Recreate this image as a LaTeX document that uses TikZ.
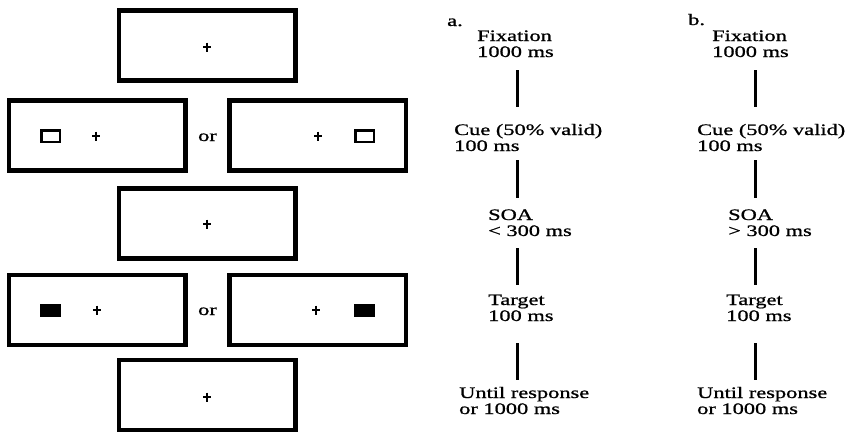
\documentclass[tikz,border=0pt]{standalone}
\usepackage{fontspec}
\setmainfont{Liberation Serif}[FakeStretch=1.4,FakeBold=1]
\begin{document}
\begin{tikzpicture}[x=1pt,y=-1pt,
  screen/.style={draw, line width=4.5pt, minimum width=176.5pt, minimum height=70pt, inner sep=0pt, outer sep=0pt},
  lbl/.style={font=\fontsize{16}{16}\selectfont, inner sep=0pt, align=left, anchor=base west},
  orlbl/.style={font=\fontsize{16}{16}\selectfont, inner sep=0pt, anchor=base},
  conn/.style={line width=3pt},
  cuebox/.style={line width=2.5pt},
  tgtbox/.style={fill=black},
  fixcross/.pic={\draw[line width=1.3pt] (-4,0) -- (4,0) (0,-4.5) -- (0,4.5);}]
\useasboundingbox (0,0) rectangle (849,432);

% screens
\node[screen] (s1)  at (207.25,45.25) {};
\node[screen] (s2l) at (97,135.25) {};
\node[screen] (s2r) at (317.5,135.25) {};
\node[screen] (s3)  at (207.25,223.5) {};
\node[screen] (s4l) at (97,310) {};
\node[screen] (s4r) at (317.5,310) {};
\node[screen] (s5)  at (207.25,395) {};

% fixation crosses
\pic at (207,47) {fixcross};
\pic at (96,136) {fixcross};
\pic at (318,136) {fixcross};
\pic at (207,224) {fixcross};
\pic at (97,310) {fixcross};
\pic at (316,310) {fixcross};
\pic at (207,397) {fixcross};

% cues and targets
\draw[cuebox] (41.25,130.25) rectangle (59.75,141.75);
\draw[cuebox] (355.25,130.25) rectangle (373.75,141.75);
\fill[tgtbox] (39.5,304) rectangle (61,317);
\fill[tgtbox] (353.5,304) rectangle (375,317);

% "or"
\node[orlbl] (or1) at (207.5,141) {or};
\node[orlbl] (or2) at (207.5,315) {or};

% column a (positions are baselines of the last line)
\node[lbl] (taga) at (447,26) {a.};
\node[lbl] (fixa) at (477,57) {Fixation\\1000 ms};
\node[lbl] (cuea) at (454,151) {Cue (50\% valid)\\100 ms};
\node[lbl] (soaa) at (488,236) {SOA\\< 300 ms};
\node[lbl] (tara) at (488,321) {Target\\100 ms};
\node[lbl] (unta) at (459,414) {Until response\\or 1000 ms};

% column b
\node[lbl] (tagb) at (688,25) {b.};
\node[lbl] (fixb) at (712,57) {Fixation\\1000 ms};
\node[lbl] (cueb) at (697,151) {Cue (50\% valid)\\100 ms};
\node[lbl] (soab) at (728,236) {SOA\\> 300 ms};
\node[lbl] (tarb) at (726,321) {Target\\100 ms};
\node[lbl] (untb) at (697,414) {Until response\\or 1000 ms};

\coordinate (la) at (517,0);
\coordinate (lb) at (755,0);

\foreach \c in {a,b}{
  \draw[conn, shorten <=13pt, shorten >=17pt] (l\c |- fix\c.south) -- (l\c |- cue\c.north);
  \draw[conn, shorten <=9pt,  shorten >=11pt] (l\c |- cue\c.south) -- (l\c |- soa\c.north);
  \draw[conn, shorten <=12pt, shorten >=9.5pt] (l\c |- soa\c.south) -- (l\c |- tar\c.north);
  \draw[conn, shorten <=22pt, shorten >=7pt]  (l\c |- tar\c.south) -- (l\c |- unt\c.north);
}
\end{tikzpicture}
\end{document}
